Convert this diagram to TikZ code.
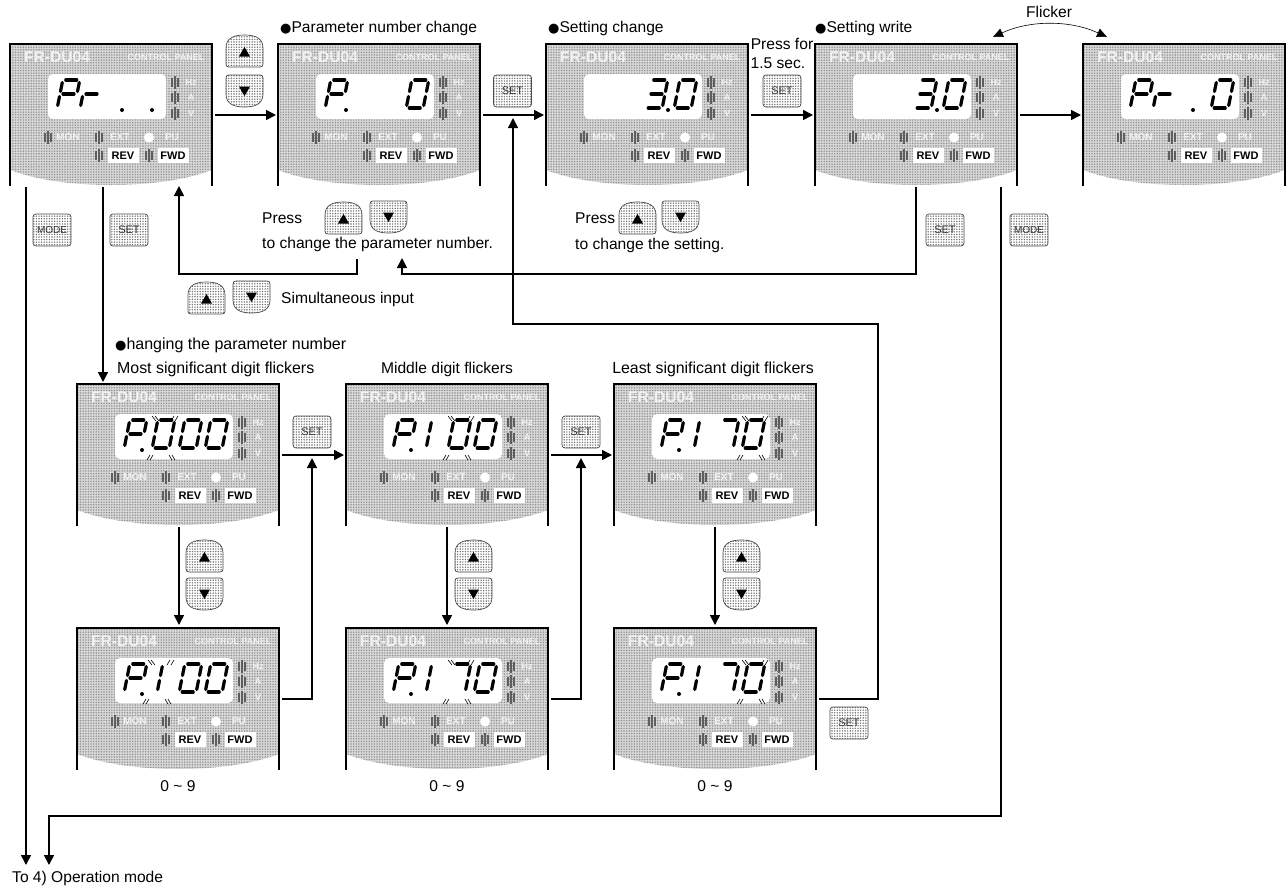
\documentclass[tikz,border=0pt]{standalone}
\usepackage{fontspec}
\setmainfont{Liberation Sans}
\newfontfamily\dejav{DejaVu Sans}
\usetikzlibrary{arrows.meta,patterns,calc}
\pgfdeclarepatternformonly{pdots}{\pgfqpoint{-1pt}{-1pt}}{\pgfqpoint{1pt}{1pt}}{\pgfqpoint{2.6pt}{2.6pt}}{\pgfpathcircle{\pgfqpoint{0pt}{0pt}}{0.8pt}\pgfusepath{fill}}
\definecolor{pgray}{HTML}{D8D8D8}
\definecolor{pdot}{HTML}{8E8E8E}
\definecolor{ledc}{HTML}{5E5E5E}
\definecolor{wtext}{HTML}{F2F2F2}
\newcommand{\fs}[1]{\fontsize{#1}{#1}\selectfont}
\tikzset{
 panelbox/.style={inner sep=0pt,outer sep=0pt,minimum width=202pt,minimum height=142pt,draw=none},
 arr/.style={line width=1.5pt,-{Triangle[length=10pt,width=10pt]}},
 seg/.style={line width=3.2pt,line cap=round,black},
 lbl/.style={anchor=base west,inner sep=0pt,font=\fs{15.6}},
 lblc/.style={anchor=base,inner sep=0pt,font=\fs{15.6}},
 wt/.style={inner sep=0pt,text=wtext,font=\fs{9}\bfseries},
 keybox/.style={draw=black!70,line width=.7pt,rounded corners=3pt,pattern=pdots,pattern color=black!55,inner sep=0pt,minimum width=38pt,minimum height=32pt,text=black!80,font=\fs{11}},
 arrowkey/.style={draw=black!70,line width=.7pt,pattern=pdots,pattern color=black!55},
}
% segments in digit coordinates (v upward)
\newcommand{\segA}{\draw[seg] (3,-29)--(14,-29);}
\newcommand{\segB}{\draw[seg] (17,-26.5)--(17,-17.5);}
\newcommand{\segC}{\draw[seg] (17,-12.5)--(17,-3.5);}
\newcommand{\segD}{\draw[seg] (3,-1)--(14,-1);}
\newcommand{\segE}{\draw[seg] (0,-3.5)--(0,-12.5);}
\newcommand{\segF}{\draw[seg] (0,-17.5)--(0,-26.5);}
\newcommand{\segG}{\draw[seg] (3,-15)--(14,-15);}
\newcommand{\digitP}[1]{\begin{scope}[shift={(#1,65)},xslant=0.2]\segA\segB\segF\segG\segE\end{scope}}
\newcommand{\digitR}[1]{\begin{scope}[shift={(#1,65)},xslant=0.2]\segE\segG\end{scope}}
\newcommand{\digitO}[1]{\begin{scope}[shift={(#1,65)},xslant=0.2]\segA\segB\segC\segD\segE\segF\end{scope}}
\newcommand{\digitOne}[1]{\begin{scope}[shift={(#1,65)},xslant=0.2]\segE\segF\end{scope}}
\newcommand{\digitSeven}[1]{\begin{scope}[shift={(#1,65)},xslant=0.2]\segA\segB\segC\end{scope}}
\newcommand{\digitThree}[1]{\begin{scope}[shift={(#1,65)},xslant=0.2]\segA\segB\segC\segD\segG\end{scope}}
\newcommand{\dspot}[1]{\fill (#1,66) circle (2pt);}
\newcommand{\flick}[1]{\draw[line width=.6pt]
  (#1-1,32)--(#1+3,37) (#1+2,32)--(#1+6,37)
  (#1+25,32)--(#1+22,37) (#1+21,32)--(#1+18,37)
  (#1-6,76)--(#1-3,71) (#1-3,76)--(#1,71)
  (#1+22,76)--(#1+19,71) (#1+19,76)--(#1+16,71);}
\newcommand{\ledmark}[2]{\draw[ledc,line width=2pt] (#1-3,#2-4.5)--(#1-3,#2+4.5) (#1,#2-6.5)--(#1,#2+6.5) (#1+3,#2-4.5)--(#1+3,#2+4.5);}
% \panel{name}{x}{y}{contents}
\newcommand{\panel}[4]{%
\begin{scope}[shift={(#2,#3)}]
 \fill[pgray] (0,0)--(202,0)--(202,126) .. controls (150,146) and (52,146) .. (0,126)--cycle;
 \fill[pattern=pdots,pattern color=pdot] (0,0)--(202,0)--(202,126) .. controls (150,146) and (52,146) .. (0,126)--cycle;
 \draw[line width=1.4pt] (0,142)--(0,0)--(202,0)--(202,142);
 \node[panelbox] (#1) at (101,71) {};
 \fill[white,rounded corners=5pt] (38,30) rectangle (156,75);
 \node[wt,font=\fs{15.6}\bfseries] (#1fr) at (47,13) {FR-DU04};
 \node[wt] (#1cp) at (156,13) {CONTROL PANEL};
 \ledmark{165}{38}\ledmark{165}{53}\ledmark{165}{69}
 \node[wt] (#1hz) at (181,38) {Hz};
 \node[wt] (#1a) at (181,53) {A};
 \node[wt] (#1v) at (181,69) {V};
 \ledmark{38}{93.5}\node[wt,font=\fs{10}\bfseries] (#1mon) at (58,93.5) {MON};
 \ledmark{89}{93.5}\node[wt,font=\fs{10}\bfseries] (#1ext) at (110,93.5) {EXT};
 \fill[white] (139,93.5) circle (5pt);\node[wt,font=\fs{10}\bfseries] (#1pu) at (162,93.5) {PU};
 \ledmark{89}{111.5}\ledmark{139}{111.5}
 \node[fill=white,inner sep=0pt,minimum width=31pt,minimum height=15pt,font=\fs{11}\bfseries] (#1rev) at (113,111.5) {REV};
 \node[fill=white,inner sep=0pt,minimum width=31pt,minimum height=15pt,font=\fs{11}\bfseries] (#1fwd) at (163,111.5) {FWD};
 #4
\end{scope}}
\newcommand{\upkey}[2]{\begin{scope}[shift={(#1,#2)}]
 \draw[arrowkey] (0,29)--(0,13) .. controls (0,3) and (8,0) .. (18.5,0) .. controls (29,0) and (37,3) .. (37,13)--(37,29) .. controls (37,31) and (36,32) .. (34,32)--(3,32) .. controls (1,32) and (0,31) .. (0,29)--cycle;
 \fill (18.5,12)--(24,21.5)--(13,21.5)--cycle;
\end{scope}}
\newcommand{\downkey}[2]{\begin{scope}[shift={(#1,#2)}]
 \draw[arrowkey] (0,3)--(0,19) .. controls (0,29) and (8,32) .. (18.5,32) .. controls (29,32) and (37,29) .. (37,19)--(37,3) .. controls (37,1) and (36,0) .. (34,0)--(3,0) .. controls (1,0) and (0,1) .. (0,3)--cycle;
 \fill (18.5,21)--(24,11.5)--(13,11.5)--cycle;
\end{scope}}
\newcommand{\bul}{{\dejav\fs{13}●}}
\begin{document}
\begin{tikzpicture}[x=1pt,y=-1pt]
\useasboundingbox (0,0) rectangle (1288,887);
% panels
\panel{ta}{10}{44}{\digitP{47}\digitR{70}\dspot{112}\dspot{142}}
\panel{tb}{278}{44}{\digitP{47}\dspot{68}\digitO{128}}
\panel{tc}{546}{44}{\digitThree{99}\dspot{122}\digitO{128}}
\panel{td}{815}{44}{\digitThree{99}\dspot{122}\digitO{128}}
\panel{te}{1083}{44}{\digitP{47}\digitR{70}\dspot{110}\digitO{128}}
\panel{ma}{77}{384}{\digitP{47}\dspot{65}\digitO{75}\digitO{102}\digitO{128}\flick{76}}
\panel{mb}{346}{384}{\digitP{47}\dspot{65}\digitOne{80}\digitO{102}\digitO{128}\flick{103}}
\panel{mc}{614}{384}{\digitP{47}\dspot{65}\digitOne{80}\digitSeven{102}\digitO{128}\flick{129}}
\panel{ba}{77}{628}{\digitP{47}\dspot{65}\digitOne{80}\digitO{102}\digitO{128}\flick{72}}
\panel{bb}{346}{628}{\digitP{47}\dspot{65}\digitOne{80}\digitSeven{102}\digitO{128}\flick{103}}
\panel{bc}{614}{628}{\digitP{47}\dspot{65}\digitOne{80}\digitSeven{102}\digitO{128}\flick{129}}
% keys
\upkey{226}{35}\downkey{226}{75}
\node[keybox] (k1) at (512.5,91) {SET};
\node[keybox] (k2) at (782,91) {SET};
\node[keybox,font=\fs{10}] (k3) at (52,230) {MODE};
\node[keybox] (k4) at (129,230) {SET};
\node[keybox] (k5) at (945,230) {SET};
\node[keybox,font=\fs{10}] (k6) at (1029,230) {MODE};
\upkey{325}{202}\downkey{370}{201}
\upkey{619}{202}\downkey{662}{201}
\upkey{188}{282}\downkey{233}{281}
\node[keybox] (k7) at (312,432) {SET};
\node[keybox] (k8) at (581,432) {SET};
\node[keybox] (k9) at (849,723) {SET};
\upkey{186}{540}\downkey{186}{578}
\upkey{455}{540}\downkey{455}{578}
\upkey{723}{540}\downkey{723}{578}
% texts
\node[lbl] (x1) at (280,32) {\bul Parameter number change};
\node[lbl] (x2) at (548,32) {\bul Setting change};
\node[lbl] (x3) at (815,32) {\bul Setting write};
\node[lblc] (x4) at (1049,17) {Flicker};
\node[lblc] (x5) at (782,49) {Press for};
\node[lblc] (x6) at (778,68) {1.5 sec.};
\node[lbl] (x7) at (262,223) {Press};
\node[lbl] (x8) at (262,248) {to change the parameter number.};
\node[lbl] (x9) at (575,223) {Press};
\node[lbl] (x10) at (575,249) {to change the setting.};
\node[lbl] (x11) at (281,303) {Simultaneous input};
\node[lbl] (x12) at (115,349) {\bul{\fs{16}hanging the parameter number}};
\node[lbl] (x13) at (117,373) {\fs{15.9}Most significant digit flickers};
\node[lblc] (x14) at (447,373) {Middle digit flickers};
\node[lblc] (x15) at (713,373) {\fs{15.9}Least significant digit flickers};
\node[lblc] (x16) at (178,791) {0 \textasciitilde{} 9};
\node[lblc] (x17) at (447,791) {0 \textasciitilde{} 9};
\node[lblc] (x18) at (715,791) {0 \textasciitilde{} 9};
\node[lbl] (x19) at (12,882) {To 4) Operation mode};
% junctions and free ends
\coordinate (j1) at (513,118);
\coordinate (j2) at (312,458);
\coordinate (j3) at (581,458);
\coordinate (c1) at (26,187);\coordinate (c1e) at (26,865);
\coordinate (c2) at (103,187);\coordinate (c2e) at (103,382);
\coordinate (c3) at (357,259);\coordinate (c3a) at (179,274);\coordinate (c3e) at (179,186);
\coordinate (c4) at (916,187);\coordinate (c4a) at (402,274);\coordinate (c4e) at (402,258);
\coordinate (c5) at (1001,187);\coordinate (c5a) at (49,816);\coordinate (c5e) at (49,865);
\coordinate (c6a) at (878,324);
% connectors
\draw[arr] ([xshift=3pt]ta.east)--([xshift=-2pt]tb.west);
\draw[arr] ([xshift=3pt]tb.east)--([xshift=-2pt]tc.west);
\draw[arr] ([xshift=3pt]tc.east)--([xshift=-2pt]td.west);
\draw[arr] ([xshift=3pt]td.east)--([xshift=-2pt]te.west);
\draw[arr] ([xshift=3pt]ma.east)--([xshift=-2pt]mb.west);
\draw[arr] ([xshift=3pt]mb.east)--([xshift=-2pt]mc.west);
\draw[arr] (c1)--(c1e);
\draw[arr] (c2)--(c2e);
\draw[arr] (c3)|-(c3a)--(c3e);
\draw[arr] (c4)|-(c4a)--(c4e);
\draw[arr] (c5)|-(c5a)--(c5e);
\draw[arr] ([xshift=3pt]ba.east)-|(j2);
\draw[arr] ([xshift=3pt]bb.east)-|(j3);
\draw[arr] ([xshift=3pt]bc.east)-|(c6a)-|(j1);
\draw[arr] (179,527)--(179,625);
\draw[arr] (447,527)--(447,625);
\draw[arr] (715,527)--(715,625);
\draw[line width=.6pt,{Triangle[length=10pt,width=9pt]}-{Triangle[length=10pt,width=9pt]}] (993,37) .. controls (1030,20) and (1070,20) .. (1107,37);
\end{tikzpicture}
\end{document}
